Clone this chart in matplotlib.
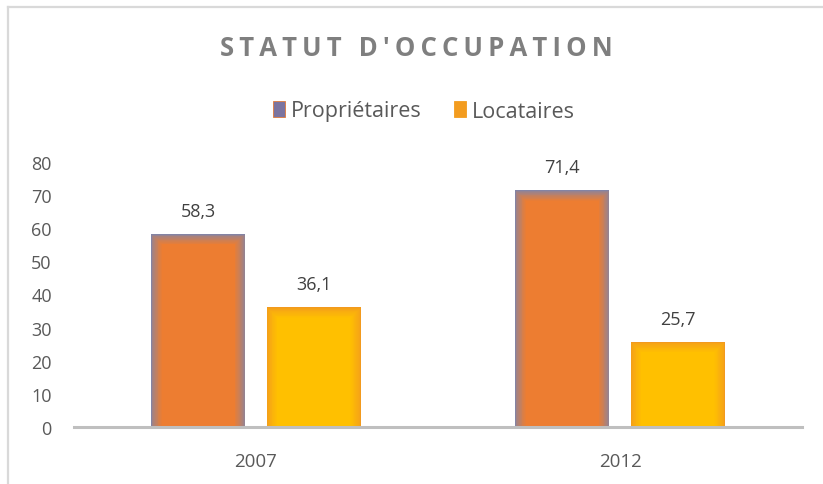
import matplotlib
matplotlib.use("Agg")
import matplotlib.pyplot as plt
import numpy as np
from matplotlib.patches import Patch
from matplotlib.lines import Line2D
from matplotlib.colors import to_rgb

categories = ["2007", "2012"]
series_names = ["Propriétaires", "Locataires"]
proprietaires = [58.3, 71.4]
locataires = [36.1, 25.7]
value_labels_p = ["58,3", "71,4"]
value_labels_l = ["36,1", "25,7"]
yticks = [0, 10, 20, 30, 40, 50, 60, 70, 80]

plt.rcParams['font.family'] = ['Open Sans', 'DejaVu Sans']
TXT = '#595959'

fig = plt.figure(figsize=(8.23, 4.85), dpi=100)
W, H = 823, 485
ax = fig.add_axes([74 / W, (H - 428) / H, (802 - 74) / W, (428 - 163) / H])

x = np.arange(len(categories))
bw = 0.26
off = 0.159

def glow_bars(xpos, vals, edge, center, nlayers=14, dx=0.03, dy=3.2):
    e = np.array(to_rgb(edge)); c = np.array(to_rgb(center))
    for i in range(nlayers):
        t = (i / (nlayers - 1)) ** 0.7
        col = e * (1 - t) + c * t
        k = i / (nlayers - 1)
        w = bw - 2 * dx * k
        hts = [max(v - dy * k, 0) for v in vals]
        ax.bar(xpos, hts, width=w, color=col, linewidth=0, zorder=2 + i * 0.01)

glow_bars(x - off, proprietaires, '#8484A4', '#ED7D31')
glow_bars(x + off, locataires, '#F29A1E', '#FFC000')

for xi, v, lab in zip(x - off, proprietaires, value_labels_p):
    ax.text(xi, v + 4.3, lab, ha='center', va='bottom', fontsize=13, color='#404040')
for xi, v, lab in zip(x + off, locataires, value_labels_l):
    ax.text(xi, v + 4.3, lab, ha='center', va='bottom', fontsize=13, color='#404040')

ax.set_xlim(-0.5, len(categories) - 0.5)
ax.set_ylim(0, 80)
ax.set_yticks(yticks)
ax.set_yticklabels([str(t) for t in yticks], fontsize=13, color=TXT)
ax.set_xticks(x)
ax.set_xticklabels(categories, fontsize=13.5, color=TXT)
ax.tick_params(axis='both', length=0)
ax.tick_params(axis='y', pad=16)
ax.tick_params(axis='x', pad=18)
for s in ['top', 'right', 'left']:
    ax.spines[s].set_visible(False)
ax.spines['bottom'].set_color('#BFBFBF')
ax.spines['bottom'].set_linewidth(2.2)
ax.spines['bottom'].set_zorder(5)

title = '\u2009'.join(list("STATUT D'OCCUPATION"))
fig.text(416 / W, 1 - 48 / H, title, ha='center', va='center', fontsize=18.5,
         fontweight='bold', color='#7F7F7F')

handles = [Patch(facecolor='#7B74A0', edgecolor='#E07A3A', linewidth=0.6),
           Patch(facecolor='#F39C1F', edgecolor='#F39C1F', linewidth=0.6)]
leg = fig.legend(handles, series_names, loc='center', bbox_to_anchor=(424 / W, 1 - 112 / H),
                 ncol=2, frameon=False, fontsize=15.5, handlelength=0.55, handleheight=0.7,
                 handletextpad=0.3, columnspacing=1.5, labelcolor=TXT)

fig.add_artist(Line2D([8 / W, 8 / W], [1 - 8 / H, 0], transform=fig.transFigure,
                      color='#D9D9D9', linewidth=1.6))
fig.add_artist(Line2D([8 / W, 1], [1 - 8 / H, 1 - 8 / H], transform=fig.transFigure,
                      color='#D9D9D9', linewidth=1.6))

fig.savefig('out.png', dpi=100)
